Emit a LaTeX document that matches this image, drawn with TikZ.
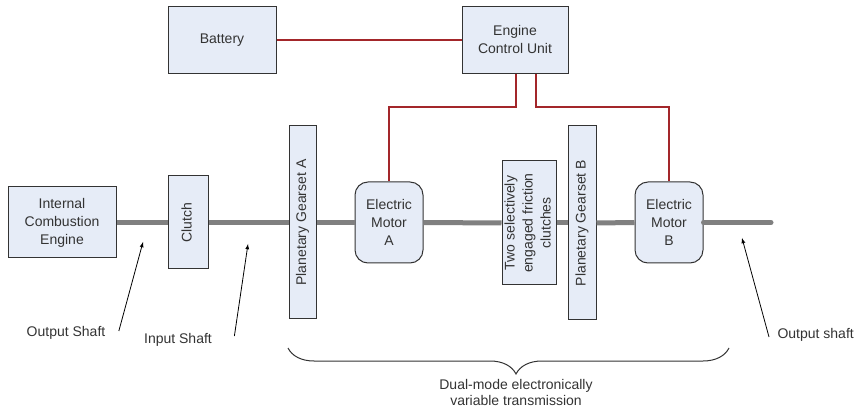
\documentclass[tikz,border=0pt]{standalone}
\usepackage{fontspec}
\setmainfont{Liberation Sans}
\usetikzlibrary{decorations.pathreplacing}

\definecolor{boxfill}{HTML}{E6ECF7}
\definecolor{boxline}{HTML}{333333}
\definecolor{wirered}{HTML}{A3262A}
\definecolor{shaftgray}{HTML}{808080}
\definecolor{labelgray}{HTML}{333333}

% upright text set sideways in a box
\newcommand{\sidetext}[1]{\rotatebox{90}{\begin{tabular}{@{}c@{}}#1\end{tabular}}}

\begin{document}
\begin{tikzpicture}[
        x=1pt, y=-1pt,
        every node/.style={font=\fontsize{14}{18}\selectfont, text=labelgray},
        unit/.style={draw=boxline, fill=boxfill, align=center, inner sep=0pt, line width=1pt},
        motor/.style={unit, rounded corners=13pt},
        wire/.style={draw=wirered, line width=2pt},
        shaft/.style={draw=shaftgray, line width=5pt},
        pointer/.style={draw=black, -latex, line width=0.8pt}
    ]
    \useasboundingbox (0,0) rectangle (856,411);

    % top row
    \node[unit, minimum width=108, minimum height=67] (battery) at (222,40) {Battery};
    \node[unit, minimum width=106, minimum height=67] (ecu) at (515,40) {Engine\\Control Unit};

    % drive line
    \node[unit, minimum width=108, minimum height=71] (ice) at (62,222.5) {Internal\\Combustion\\Engine};
    \node[unit, minimum width=40, minimum height=93] (clutch) at (188,222.5) {\sidetext{Clutch}};
    \node[unit, minimum width=27, minimum height=193] (gearA) at (302.5,222.5) {\sidetext{Planetary Gearset A}};
    \node[motor, minimum width=68, minimum height=81] (motorA) at (389,222.5) {Electric\\Motor\\A};
    \node[unit, minimum width=54, minimum height=124] (clutches) at (529,223) {\sidetext{Two selectively\\engaged friction\\clutches}};
    \node[unit, minimum width=28, minimum height=194] (gearB) at (582,223) {\sidetext{Planetary Gearset B}};
    \node[motor, minimum width=68, minimum height=81] (motorB) at (669,222.5) {Electric\\Motor\\B};
    \coordinate (shaftend) at (771,222.5);

    \draw[shaft] (ice.east) -- (clutch.west);
    \draw[shaft] (clutch.east) -- (gearA.west);
    \draw[shaft] (gearA.east) -- (motorA.west);
    \draw[shaft] (motorA.east) -- (clutches.west);
    \draw[shaft] (clutches.east) -- (gearB.west);
    \draw[shaft] (gearB.east) -- (motorB.west);
    \draw[shaft, line cap=round] (motorB.east) -- (shaftend);

    % wiring
    \draw[wire] (battery.east) -- (ecu.west);
    \draw[wire] ([xshift=1pt]ecu.south) -- ++(0,33) -| (motorA.north);
    \draw[wire] ([xshift=21pt]ecu.south) -- ++(0,33) -| (motorB.north);

    % shaft labels
    \node (outleft) at (66,333) {Output Shaft};
    \node (inshaft) at (178,340) {Input Shaft};
    \node[anchor=west] (outright) at (774,335) {Output shaft};
    \coordinate (outlefttip) at (143,242);
    \coordinate (intip) at (248,244);
    \coordinate (outrighttip) at (742,238);
    \draw[pointer] ([xshift=10pt,yshift=2pt]outleft.east) -- (outlefttip);
    \draw[pointer] ([xshift=19pt,yshift=4pt]inshaft.east) -- (intip);
    \draw[pointer] ([xshift=-5pt,yshift=-2pt]outright.west) -- (outrighttip);

    % transmission brace
    \coordinate (braceL) at (288,348);
    \coordinate (braceR) at (729,348);
    \draw[boxline, line width=1pt, decorate, decoration={brace, mirror, amplitude=26pt, aspect=0.517}]
        (braceL) -- (braceR);
    \node[align=center, anchor=north, font=\fontsize{14}{16}\selectfont] (evt) at (516,376) {Dual-mode electronically\\variable transmission};
\end{tikzpicture}
\end{document}
